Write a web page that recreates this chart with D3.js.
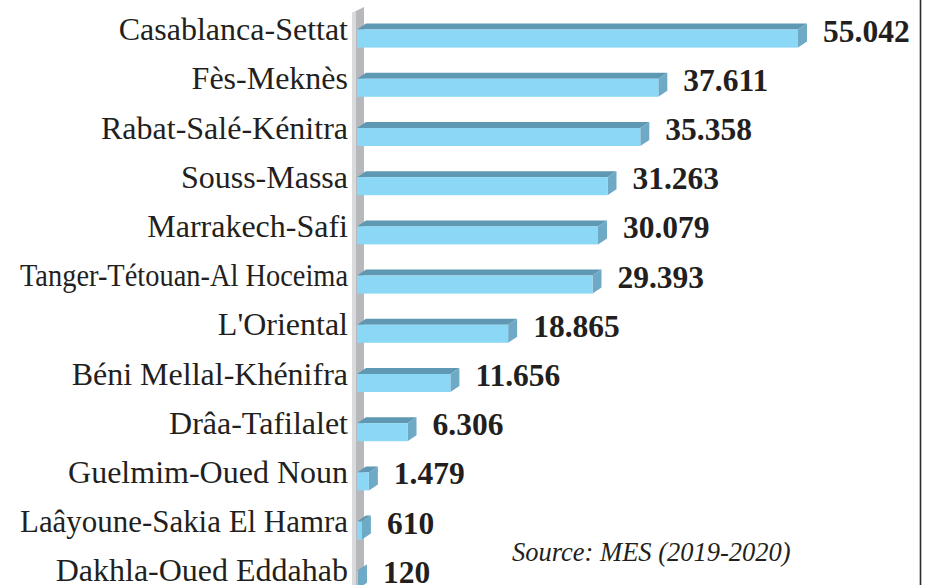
<!DOCTYPE html>
<html>
<head>
<meta charset="utf-8">
<script src="https://cdn.jsdelivr.net/npm/d3@7"></script>
<style>
  html, body { margin: 0; padding: 0; background: #fff; }
  svg { display: block; }
  text { font-family: "Times New Roman", Times, "Liberation Serif", serif; fill: #231f20; }
</style>
</head>
<body>
<div id="chart"></div>
<script>
// regions, top to bottom
const regions = [
  "Casablanca-Settat", "Fès-Meknès", "Rabat-Salé-Kénitra", "Souss-Massa",
  "Marrakech-Safi", "Tanger-Tétouan-Al Hoceima", "L'Oriental",
  "Béni Mellal-Khénifra", "Drâa-Tafilalet", "Guelmim-Oued Noun",
  "Laâyoune-Sakia El Hamra", "Dakhla-Oued Eddahab"
];
const values = [55042, 37611, 35358, 31263, 30079, 29393, 18865, 11656, 6306, 1479, 610, 120];
const valueLabels = ["55.042", "37.611", "35.358", "31.263", "30.079", "29.393", "18.865", "11.656", "6.306", "1.479", "610", "120"];
const sourceText = "Source: MES (2019-2020)";

const width = 932, height = 585;
const depthX = 9, depthY = 6, faceH = 18;
const labelRight = 348, labelMaxW = 328;

const svg = d3.select("#chart").append("svg")
    .attr("width", width)
    .attr("height", height)
    .attr("viewBox", [0, 0, width, height]);

const x = d3.scaleLinear().domain([0, 55042]).range([357, 798]);
const y = d3.scaleBand().domain(regions).range([4, 4 + 12 * 49.2]).padding(0);

// grey wall behind the bars
const wallL = 352, wallR = 364;
svg.append("path")
    .attr("d", `M${wallL},13 L${wallR},7 L${wallR},${height} L${wallL},${height} Z`)
    .attr("fill", "#b7b8bb");
svg.append("path")
    .attr("d", `M${wallL},13 L${wallL + 4},11 L${wallL + 4},${height} L${wallL},${height} Z`)
    .attr("fill", "#d9dadc");

// right frame line
svg.append("line")
    .attr("x1", 920.5).attr("x2", 920.5)
    .attr("y1", 0).attr("y2", height)
    .attr("stroke", "#2b2b2b").attr("stroke-width", 1.6);

const rows = svg.selectAll("g.row")
    .data(regions.map((r, i) => ({ region: r, value: values[i], label: valueLabels[i] })))
    .join("g")
    .attr("class", "row");

// front face top = row middle
const faceTop = d => y(d.region) + y.bandwidth() / 2 + 1;

// top face
rows.append("path")
    .attr("d", d => {
        const x0 = x(0), x1 = x(d.value), t = faceTop(d);
        return `M${x0},${t} L${x1},${t} L${x1 + depthX},${t - depthY} L${x0 + depthX},${t - depthY} Z`;
    })
    .attr("fill", "#5f98b2");

// side face
rows.append("path")
    .attr("d", d => {
        const x1 = x(d.value), t = faceTop(d);
        return `M${x1},${t} L${x1 + depthX},${t - depthY} L${x1 + depthX},${t + faceH - depthY} L${x1},${t + faceH} Z`;
    })
    .attr("fill", "#6ea9c6");

// front face
rows.append("rect")
    .attr("x", x(0))
    .attr("y", d => faceTop(d))
    .attr("width", d => x(d.value) - x(0))
    .attr("height", faceH)
    .attr("fill", "#8bd7f6");

// category labels
rows.append("text")
    .attr("class", "cat")
    .attr("x", labelRight)
    .attr("y", d => faceTop(d) + 10.5)
    .attr("text-anchor", "end")
    .attr("font-size", 32)
    .text(d => d.region)
    .each(function() {
        // squeeze the long label like the original layout does
        const w = this.getComputedTextLength();
        if (w > labelMaxW) {
            d3.select(this)
                .attr("textLength", labelMaxW)
                .attr("lengthAdjust", "spacingAndGlyphs");
        }
    });

// value labels
rows.append("text")
    .attr("x", d => x(d.value) + 25)
    .attr("y", d => faceTop(d) + 12)
    .attr("font-weight", "bold")
    .attr("font-size", 31.5)
    .text(d => d.label);

svg.append("text")
    .attr("x", 512)
    .attr("y", 561)
    .attr("font-style", "italic")
    .attr("font-size", 26.5)
    .text(sourceText);
</script>
</body>
</html>
